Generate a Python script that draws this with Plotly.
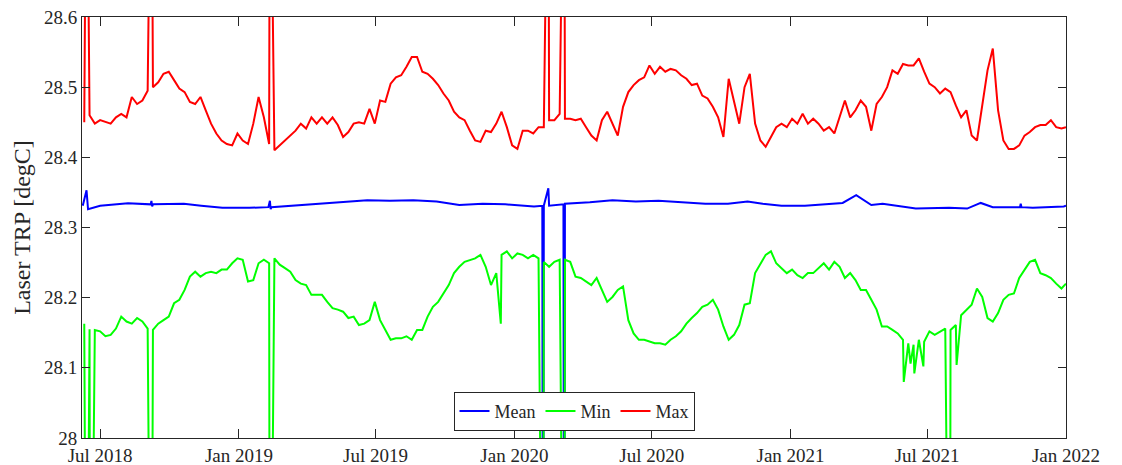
import pandas as pd
import plotly.graph_objects as go

# ---------------- data ----------------
week_dates = pd.date_range("2018-06-10", periods=186, freq="7D")

max_weekly = [
    28.450, 28.460, 28.448, 28.453, 28.450, 28.448, 28.457, 28.462, 28.457, 28.486,
    28.476, 28.481, 28.495, 28.500, 28.507, 28.519, 28.522, 28.510, 28.498, 28.493,
    28.479, 28.476, 28.486, 28.467, 28.448, 28.434, 28.424, 28.419, 28.417, 28.434,
    28.424, 28.419, 28.448, 28.486, 28.457, 28.419, 28.410, 28.417, 28.424, 28.431,
    28.438, 28.448, 28.441, 28.457, 28.448, 28.457, 28.448, 28.457, 28.446, 28.429,
    28.436, 28.448, 28.450, 28.448, 28.469, 28.448, 28.481, 28.479, 28.505, 28.514,
    28.517, 28.529,
    28.543, 28.543, 28.522, 28.519, 28.512, 28.503, 28.491, 28.481, 28.465, 28.457,
    28.453, 28.438, 28.424, 28.422, 28.438, 28.436, 28.448, 28.465, 28.443, 28.417,
    28.412, 28.438, 28.438, 28.434, 28.443, 28.443, 28.453, 28.453, 28.462, 28.455,
    28.455, 28.453, 28.455, 28.443, 28.431, 28.424, 28.453, 28.465, 28.448, 28.431,
    28.472, 28.493, 28.503, 28.510, 28.514, 28.531, 28.519, 28.529, 28.522, 28.526,
    28.524, 28.517, 28.512, 28.503, 28.505, 28.488, 28.484, 28.472, 28.457, 28.429,
    28.512, 28.481,
    28.448, 28.500, 28.519, 28.448, 28.424, 28.415, 28.429, 28.443, 28.448, 28.443,
    28.455, 28.448, 28.462, 28.448, 28.455, 28.448, 28.438, 28.443, 28.434, 28.457,
    28.481, 28.457, 28.467, 28.481, 28.472, 28.438, 28.476, 28.486, 28.500, 28.524,
    28.519, 28.533, 28.531, 28.531, 28.541, 28.522, 28.505, 28.500, 28.491, 28.498,
    28.493, 28.474, 28.457, 28.467, 28.431, 28.424, 28.472, 28.524, 28.555, 28.467,
    28.424, 28.412, 28.412, 28.417, 28.431, 28.436, 28.443, 28.446, 28.446, 28.453,
    28.443, 28.441,
]

min_weekly = [
    28.163, 28.155, 28.154, 28.152, 28.145, 28.147, 28.156, 28.173, 28.166, 28.163,
    28.171, 28.166, 28.156, 28.154, 28.163, 28.168, 28.173, 28.192, 28.197, 28.211,
    28.230, 28.237, 28.230, 28.235, 28.237, 28.235, 28.240, 28.240, 28.249, 28.256,
    28.254, 28.223, 28.225, 28.249, 28.254, 28.249, 28.256, 28.247, 28.242, 28.237,
    28.225, 28.220, 28.218, 28.204, 28.204, 28.204, 28.194, 28.185, 28.183, 28.180,
    28.171, 28.173, 28.161, 28.163, 28.168, 28.194, 28.168, 28.154, 28.140, 28.142,
    28.142, 28.145,
    28.140, 28.154, 28.154, 28.173, 28.187, 28.194, 28.206, 28.218, 28.235, 28.244,
    28.251, 28.254, 28.256, 28.261, 28.244, 28.218, 28.235, 28.261, 28.266, 28.256,
    28.263, 28.261, 28.256, 28.261, 28.256, 28.251, 28.244, 28.251, 28.254, 28.254,
    28.251, 28.230, 28.228, 28.223, 28.218, 28.228, 28.211, 28.194, 28.201, 28.211,
    28.216, 28.168, 28.149, 28.140, 28.140, 28.137, 28.135, 28.135, 28.133, 28.140,
    28.145, 28.152, 28.163, 28.171, 28.178, 28.187, 28.190, 28.197, 28.183, 28.159,
    28.140, 28.147,
    28.161, 28.190, 28.192, 28.235, 28.249, 28.261, 28.266, 28.249, 28.242, 28.235,
    28.240, 28.232, 28.228, 28.235, 28.235, 28.242, 28.249, 28.240, 28.251, 28.244,
    28.228, 28.235, 28.225, 28.211, 28.211, 28.197, 28.183, 28.159, 28.159, 28.154,
    28.149, 28.140, 28.135, 28.133, 28.140, 28.137, 28.152, 28.147, 28.152, 28.156,
    28.154, 28.161, 28.175, 28.183, 28.190, 28.213, 28.201, 28.171, 28.166, 28.178,
    28.197, 28.204, 28.206, 28.228, 28.240, 28.251, 28.254, 28.235, 28.232, 28.228,
    28.220, 28.213,
]

# single-day events (spikes) and end point
max_event_dates = ["2018-06-13", "2018-09-07", "2019-02-11", "2020-02-15",
                   "2020-03-07", "2022-01-01"]
max_event_values = [28.95, 28.95, 28.95, 28.95, 28.95, 28.443]

min_event_dates = ["2018-06-13", "2018-06-18", "2018-09-07", "2019-02-11",
                   "2019-12-14", "2020-02-08", "2020-03-07", "2021-05-31",
                   "2021-06-09", "2021-06-14", "2021-06-26", "2021-07-31",
                   "2021-08-09", "2022-01-01"]
min_event_values = [27.5, 27.5, 27.5, 27.5, 28.163, 27.5, 27.5, 28.080,
                    28.106, 28.092, 28.102, 27.5, 28.104, 28.220]

mean_dates = [
    "2018-06-08", "2018-06-13", "2018-06-15", "2018-07-01", "2018-08-07",
    "2018-09-06", "2018-09-07", "2018-09-08", "2018-09-09", "2018-10-20",
    "2018-11-12", "2018-12-10", "2019-01-15", "2019-02-09", "2019-02-11",
    "2019-02-12", "2019-02-13", "2019-04-10", "2019-05-20", "2019-06-20",
    "2019-07-20", "2019-08-20", "2019-09-20", "2019-10-20", "2019-11-20",
    "2019-12-20", "2020-01-27", "2020-02-07", "2020-02-08", "2020-02-09",
    "2020-02-15", "2020-02-16", "2020-03-06", "2020-03-07", "2020-03-08",
    "2020-04-10", "2020-05-10", "2020-06-10", "2020-07-10", "2020-08-10",
    "2020-09-10", "2020-10-10", "2020-11-05", "2020-11-25", "2020-12-20",
    "2021-01-20", "2021-03-11", "2021-03-29", "2021-04-18", "2021-05-03",
    "2021-05-25", "2021-06-16", "2021-07-30", "2021-08-23", "2021-09-10",
    "2021-09-26", "2021-11-01", "2021-11-02", "2021-11-03", "2021-11-18",
    "2021-12-29", "2022-01-01",
]
mean_values = [
    28.331, 28.353, 28.326, 28.331, 28.3345,
    28.333, 28.338, 28.330, 28.333, 28.334,
    28.331, 28.328, 28.328, 28.329, 28.338,
    28.326, 28.329, 28.333, 28.336, 28.339,
    28.338, 28.339, 28.337, 28.332, 28.334,
    28.333, 28.330, 28.331, 27.5, 28.331,
    28.356, 28.331, 28.333, 27.5, 28.334,
    28.336, 28.339, 28.337, 28.338, 28.336,
    28.334, 28.334, 28.337, 28.334, 28.331,
    28.331, 28.335, 28.346, 28.332, 28.334,
    28.330, 28.327, 28.328, 28.327, 28.335,
    28.329, 28.329, 28.334, 28.329, 28.328,
    28.330, 28.331,
]

x_tick_dates = ["2018-07-01", "2019-01-01", "2019-07-01", "2020-01-01",
                "2020-07-01", "2021-01-01", "2021-07-01", "2022-01-01"]
x_tick_text = ["Jul 2018", "Jan 2019", "Jul 2019", "Jan 2020",
               "Jul 2020", "Jan 2021", "Jul 2021", "Jan 2022"]
y_tick_vals = [28.0, 28.1, 28.2, 28.3, 28.4, 28.5, 28.6]
y_tick_text = ["28", "28.1", "28.2", "28.3", "28.4", "28.5", "28.6"]


def merge(dates, values, ev_dates, ev_values):
    s = pd.concat([
        pd.Series(values, index=pd.DatetimeIndex(dates)),
        pd.Series(ev_values, index=pd.to_datetime(ev_dates)),
    ])
    return s.sort_index(kind="mergesort")


max_series = merge(week_dates, max_weekly, max_event_dates, max_event_values)
min_series = merge(week_dates, min_weekly, min_event_dates, min_event_values)
mean_series = pd.Series(mean_values, index=pd.to_datetime(mean_dates))

AX = "#262626"
fig = go.Figure()
fig.add_trace(go.Scatter(x=mean_series.index, y=mean_series.values, mode="lines",
                         name="Mean", line=dict(color="#0000FF", width=2)))
fig.add_trace(go.Scatter(x=min_series.index, y=min_series.values, mode="lines",
                         name="Min", line=dict(color="#00FF00", width=2)))
fig.add_trace(go.Scatter(x=max_series.index, y=max_series.values, mode="lines",
                         name="Max", line=dict(color="#FF0000", width=2)))

# the page body adds an 8 px offset; margins compensate so the axes land
# at x 82..1066, y 17..438 of the window
fig.update_layout(
    width=1122, height=465,
    margin=dict(l=74, r=64, t=9, b=35, autoexpand=False),
    plot_bgcolor="white", paper_bgcolor="white",
    font=dict(family="Liberation Serif", size=19, color=AX),
    legend=dict(orientation="h", x=0.5, xanchor="center", y=0.017, yanchor="bottom",
                bordercolor=AX, borderwidth=1, bgcolor="white",
                font=dict(size=18), tracegroupgap=0, itemwidth=30),
)
fig.update_xaxes(
    type="date", range=["2018-06-07", "2022-01-01"], automargin=False,
    tickmode="array", tickvals=x_tick_dates, ticktext=x_tick_text,
    ticks="inside", ticklen=9, tickwidth=1, tickcolor=AX,
    showline=True, linecolor=AX, linewidth=1, mirror="ticks",
    showgrid=False, zeroline=False, ticklabeloverflow="allow",
)
fig.update_yaxes(
    range=[28.0, 28.6], automargin=False,
    tickmode="array", tickvals=y_tick_vals, ticktext=y_tick_text,
    ticks="inside", ticklen=8, tickwidth=1, tickcolor=AX,
    showline=True, linecolor=AX, linewidth=1, mirror="ticks",
    showgrid=False, zeroline=False, ticklabeloverflow="allow",
    title=dict(text="Laser TRP [degC]", font=dict(size=24), standoff=6),
)

fig.write_html("out.html")
